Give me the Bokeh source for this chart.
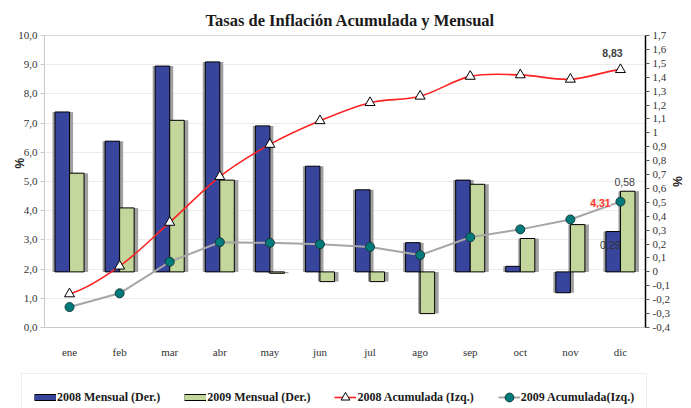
import numpy as np
from bokeh.plotting import figure
from bokeh.layouts import column
from bokeh.models import (Range1d, LinearAxis, FixedTicker, CustomJSTickFormatter,
                          Legend, LegendItem, Label)
from bokeh.embed import file_html
from bokeh.resources import INLINE

# ---------------- data ----------------
meses = ["ene", "feb", "mar", "abr", "may", "jun", "jul", "ago", "sep", "oct", "nov", "dic"]
mensual_2008 = [1.15, 0.94, 1.48, 1.51, 1.05, 0.76, 0.59, 0.21, 0.66, 0.04, -0.15, 0.29]
mensual_2009 = [0.71, 0.46, 1.09, 0.66, -0.01, -0.07, -0.07, -0.30, 0.63, 0.24, 0.34, 0.58]
acum_2008 = [1.15, 2.10, 3.60, 5.17, 6.27, 7.08, 7.70, 7.92, 8.60, 8.65, 8.50, 8.83]
acum_2009 = [0.70, 1.17, 2.25, 2.92, 2.90, 2.85, 2.76, 2.48, 3.09, 3.36, 3.70, 4.31]
left_ticks = [0, 1, 2, 3, 4, 5, 6, 7, 8, 9, 10]
right_ticks = [-0.4, -0.3, -0.2, -0.1, 0.0, 0.1, 0.2, 0.3, 0.4, 0.5, 0.6, 0.7, 0.8,
               0.9, 1.0, 1.1, 1.2, 1.3, 1.4, 1.5, 1.6, 1.7]
serie_labels = ["2008 Mensual (Der.)", "2009 Mensual (Der.)",
                "2008 Acumulada (Izq.)", "2009 Acumulada(Izq.)"]

BLUE = "#38459D"
GREEN = "#C3D69B"
RED = "#FF2222"
GRAY = "#A6A6A6"
TEAL = "#007A7A"
SHADOW = "#A0A0A0"
SERIF = "Liberation Serif"
SANS = "Liberation Sans"

n = len(meses)
x = np.arange(n) + 0.5

p = figure(width=691, height=360, output_backend="svg", toolbar_location=None,
           x_range=Range1d(0, n), y_range=Range1d(0, 10),
           min_border_left=44, min_border_right=46, min_border_top=35, min_border_bottom=27,
           background_fill_color="white", border_fill_color="white")
p.frame_align = False
p.outline_line_color = "#D9D9D9"
p.extra_y_ranges = {"der": Range1d(-0.4, 1.7)}

# title
p.title.text = "Tasas de Inflación Acumulada y Mensual"
p.title.text_font = SERIF
p.title.text_font_style = "bold"
p.title.text_font_size = "16.5px"
p.title.text_color = "#1A1A1A"
p.title.align = "left"
p.title.offset = 161
p.title.standoff = 11

# x axis
xa = p.xaxis[0]
xa.ticker = FixedTicker(ticks=list(x))
xa.major_label_overrides = {float(xx): m for xx, m in zip(x, meses)}
xa.major_tick_line_color = None
xa.minor_tick_line_color = None
xa.axis_line_color = "#C8C8C8"
xa.major_label_text_font = SERIF
xa.major_label_text_font_size = "11px"
xa.major_label_text_color = "#333333"
xa.major_label_standoff = 12

# left axis
ya = p.yaxis[0]
ya.ticker = FixedTicker(ticks=left_ticks)
ya.formatter = CustomJSTickFormatter(code="return tick.toFixed(1).replace('.', ',');")
ya.axis_line_color = "#C8C8C8"
ya.major_tick_line_color = "#C8C8C8"
ya.major_tick_out = 4
ya.major_tick_in = 0
ya.minor_tick_line_color = None
ya.major_label_text_font = SERIF
ya.major_label_text_font_size = "11px"
ya.major_label_text_color = "#333333"
ya.major_label_standoff = 3
ya.axis_label = "\u00a0" * 11 + "%"
ya.axis_label_text_font = SANS
ya.axis_label_text_font_style = "bold"
ya.axis_label_text_font_size = "12px"
ya.axis_label_text_color = "#222222"
ya.axis_label_standoff = -12

# right axis
ra = LinearAxis(y_range_name="der", ticker=FixedTicker(ticks=right_ticks),
                formatter=CustomJSTickFormatter(
                    code="var s = (Math.round(tick*10)/10).toString(); return s.replace('.', ',');"))
ra.axis_line_color = "black"
ra.axis_line_width = 1.5
ra.major_tick_line_color = "#555555"
ra.major_tick_out = 4
ra.major_tick_in = 0
ra.minor_tick_line_color = None
ra.major_label_text_font = SERIF
ra.major_label_text_font_size = "11px"
ra.major_label_text_color = "#333333"
ra.major_label_standoff = 3
ra.axis_label = "%"
ra.axis_label_text_font = SANS
ra.axis_label_text_font_style = "bold"
ra.axis_label_text_font_size = "12px"
ra.axis_label_text_color = "#222222"
ra.axis_label_standoff = -3
p.add_layout(ra, "right")

p.xgrid.grid_line_color = None
p.ygrid.grid_line_color = "#EBEBEB"
p.ygrid.ticker = FixedTicker(ticks=left_ticks)

# bars with shadows
bw = 0.29
xb = x - bw / 2
xg = x + bw / 2
p.vbar(x=xb + 0.01, width=bw + 0.12, top=mensual_2008, bottom=0, y_range_name="der",
       fill_color=SHADOW, line_color=None)
p.vbar(x=xg + 0.02, width=bw + 0.12, top=mensual_2009, bottom=0, y_range_name="der",
       fill_color=SHADOW, line_color=None)
p.vbar(x=xb, width=bw, top=mensual_2008, bottom=0, y_range_name="der",
       fill_color=BLUE, line_color="black", line_width=1)
p.vbar(x=xg, width=bw, top=mensual_2009, bottom=0, y_range_name="der",
       fill_color=GREEN, line_color="black", line_width=1)

# 2009 accumulated (straight)
p.line(x, acum_2009, line_color=GRAY, line_width=2)

# 2008 accumulated (smoothed, Catmull-Rom as Bezier segments)
ya8 = np.array(acum_2008)
ext = np.concatenate([[ya8[0]], ya8, [ya8[-1]]])
m = (ext[2:] - ext[:-2]) / 2.0
p.bezier(x0=x[:-1], y0=ya8[:-1], x1=x[1:], y1=ya8[1:],
         cx0=x[:-1] + 1 / 3, cy0=ya8[:-1] + m[:-1] / 3,
         cx1=x[1:] - 1 / 3, cy1=ya8[1:] - m[1:] / 3,
         line_color=RED, line_width=1.6)

p.scatter(x, acum_2009, marker="circle", size=9, fill_color=TEAL,
          line_color="#1A3A3A", line_width=1)
p.scatter(x, acum_2008, marker="triangle", size=10, fill_color="white",
          line_color="black", line_width=1)

# data labels
def fmt(v):
    return f"{v:.2f}".replace(".", ",")

p.add_layout(Label(x=x[-1], y=acum_2008[-1], text=fmt(acum_2008[-1]), x_offset=-8, y_offset=17,
                   text_align="center", text_baseline="middle", text_font=SANS,
                   text_font_style="bold", text_font_size="10.5px", text_color="#404040"))
p.add_layout(Label(x=x[-1], y=acum_2009[-1], text=fmt(acum_2009[-1]), x_offset=-20, y_offset=-1,
                   text_align="center", text_baseline="middle", text_font=SANS,
                   text_font_style="bold", text_font_size="10.5px", text_color="#FF3333",
                   background_fill_color="#EEF2E2"))
p.add_layout(Label(x=xg[-1], y=mensual_2009[-1], y_range_name="der", text=fmt(mensual_2009[-1]),
                   x_offset=-3, y_offset=9, text_align="center", text_baseline="middle",
                   text_font=SANS, text_font_size="10.5px", text_color="#404040"))
p.add_layout(Label(x=xb[-1], y=mensual_2008[-1], y_range_name="der", text=fmt(mensual_2008[-1]),
                   x_offset=-3, y_offset=-13, text_align="center", text_baseline="middle",
                   text_font=SANS, text_font_size="10.5px", text_color="#333333"))

# ---------------- legend strip (separate small figure) ----------------
q = figure(width=691, height=48, output_backend="svg", toolbar_location=None,
           x_range=Range1d(0, 1), y_range=Range1d(0, 1),
           x_axis_location=None, y_axis_location=None,
           min_border_left=0, min_border_right=0, min_border_top=0, min_border_bottom=0,
           background_fill_color="white", border_fill_color="white")
q.frame_align = False
q.outline_line_color = None
q.xgrid.grid_line_color = None
q.ygrid.grid_line_color = None

nan = [np.nan]
k08 = q.line(nan, nan, line_color="black", line_width=7)
b08 = q.line(nan, nan, line_color=BLUE, line_width=5)
k09 = q.line(nan, nan, line_color="black", line_width=7)
b09 = q.line(nan, nan, line_color=GREEN, line_width=5)
l08 = q.line(nan, nan, line_color=RED, line_width=1.6)
t08 = q.scatter(nan, nan, marker="triangle", fill_color="white", line_color="black")
l09 = q.line(nan, nan, line_color=GRAY, line_width=2)
c09 = q.scatter(nan, nan, marker="circle", fill_color=TEAL, line_color="#1A3A3A")

legend = Legend(items=[
    LegendItem(label=serie_labels[0], renderers=[k08, b08]),
    LegendItem(label=serie_labels[1], renderers=[k09, b09]),
    LegendItem(label=serie_labels[2], renderers=[l08, t08]),
    LegendItem(label=serie_labels[3], renderers=[l09, c09]),
], orientation="horizontal", location=(21, -13))
legend.label_text_font = SERIF
legend.label_text_font_style = "bold"
legend.label_text_font_size = "12px"
legend.label_text_color = "#1A1A1A"
legend.glyph_width = 22
legend.glyph_height = 22
legend.label_height = 12
legend.label_standoff = 1
legend.spacing = 24
legend.padding = 12
legend.margin = 0
legend.border_line_color = "#DDDDDD"
legend.background_fill_color = "white"
legend.background_fill_alpha = 1
q.add_layout(legend, "center")

layout = column(p, q, spacing=0)
open("out.html", "w").write(file_html(layout, INLINE))
